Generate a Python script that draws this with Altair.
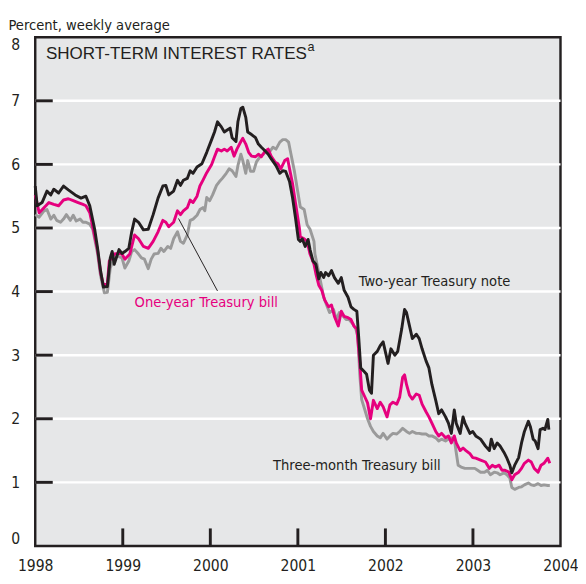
import altair as alt
import pandas as pd

INK = "#231f20"
BG = "#e6e7e8"
PINK = "#e6007e"
GRAY = "#9a9a9a"
NARROW = "DejaVu Sans Condensed, Liberation Sans Narrow, sans-serif"
SANS = "Liberation Sans, Arial, sans-serif"

year_ticks = [1998, 1999, 2000, 2001, 2002, 2003, 2004]
inner_year_ticks = [1999, 2000, 2001, 2002, 2003]
pct_ticks = [0, 1, 2, 3, 4, 5, 6, 7, 8]
grid_levels = [1, 2, 3, 4, 5, 6, 7]

# Two-year Treasury note (decimal year, percent)
two_t = [1998.000, 1998.022, 1998.078, 1998.134, 1998.178, 1998.212, 1998.267, 1998.323, 1998.378, 1998.456,
         1998.523, 1998.579, 1998.623, 1998.679, 1998.712, 1998.746, 1998.779, 1998.824, 1998.857, 1998.879,
         1998.902, 1998.957, 1998.991, 1999.024, 1999.069, 1999.102, 1999.135, 1999.180, 1999.236, 1999.291,
         1999.347, 1999.403, 1999.458, 1999.492, 1999.525, 1999.581, 1999.625, 1999.659, 1999.692, 1999.737,
         1999.770, 1999.803, 1999.848, 1999.904, 1999.959, 2000.015, 2000.048, 2000.082, 2000.126, 2000.160,
         2000.193, 2000.226, 2000.249, 2000.293, 2000.315, 2000.349, 2000.371, 2000.405, 2000.427, 2000.471,
         2000.516, 2000.549, 2000.583, 2000.627, 2000.661, 2000.694, 2000.750, 2000.794, 2000.828, 2000.861,
         2000.905, 2000.939, 2000.972, 2001.006, 2001.028, 2001.050, 2001.084, 2001.117, 2001.139, 2001.173,
         2001.206, 2001.239, 2001.262, 2001.295, 2001.317, 2001.351, 2001.384, 2001.418, 2001.462, 2001.496,
         2001.529, 2001.573, 2001.607, 2001.640, 2001.674, 2001.696, 2001.718, 2001.752, 2001.785, 2001.818,
         2001.841, 2001.863, 2001.907, 2001.941, 2001.974, 2002.030, 2002.063, 2002.108, 2002.141, 2002.186,
         2002.219, 2002.241, 2002.275, 2002.308, 2002.353, 2002.386, 2002.419, 2002.464, 2002.497, 2002.531,
         2002.575, 2002.609, 2002.642, 2002.687, 2002.720, 2002.753, 2002.787, 2002.809, 2002.854, 2002.887,
         2002.909, 2002.965, 2002.998, 2003.032, 2003.087, 2003.143, 2003.188, 2003.210, 2003.243, 2003.277,
         2003.310, 2003.355, 2003.388, 2003.421, 2003.444, 2003.477, 2003.522, 2003.555, 2003.588, 2003.633,
         2003.655, 2003.688, 2003.711, 2003.744, 2003.767, 2003.800, 2003.822, 2003.855, 2003.867]
two_v = [5.66, 5.35, 5.40, 5.58, 5.52, 5.61, 5.55, 5.66, 5.60, 5.52,
         5.47, 5.50, 5.35, 4.98, 4.68, 4.33, 4.07, 4.08, 4.53, 4.63,
         4.43, 4.66, 4.60, 4.63, 4.68, 4.94, 5.14, 5.09, 4.97, 4.98,
         5.21, 5.47, 5.66, 5.67, 5.52, 5.58, 5.75, 5.67, 5.75, 5.78,
         5.90, 5.86, 5.96, 6.01, 6.19, 6.39, 6.51, 6.67, 6.59, 6.51,
         6.54, 6.57, 6.42, 6.36, 6.67, 6.88, 6.90, 6.74, 6.51, 6.47,
         6.42, 6.32, 6.27, 6.21, 6.16, 6.09, 5.98, 5.86, 5.90, 5.89,
         5.73, 5.48, 5.17, 4.82, 4.79, 4.83, 4.71, 4.82, 4.66, 4.48,
         4.43, 4.20, 4.30, 4.22, 4.30, 4.25, 4.33, 4.22, 4.13, 4.22,
         4.02, 3.91, 3.76, 3.72, 3.69, 3.26, 2.80, 2.75, 2.70, 2.45,
         2.40, 3.00, 3.06, 3.15, 3.21, 2.87, 3.10, 3.00, 3.06, 3.41,
         3.72, 3.67, 3.46, 3.26, 3.33, 3.26, 3.10, 2.91, 2.80, 2.54,
         2.29, 2.08, 2.14, 2.03, 1.93, 1.77, 2.14, 1.93, 1.77, 2.03,
         1.93, 1.77, 1.80, 1.73, 1.68, 1.57, 1.50, 1.68, 1.53, 1.62,
         1.57, 1.47, 1.38, 1.27, 1.15, 1.27, 1.39, 1.62, 1.80, 1.96,
         1.88, 1.68, 1.65, 1.53, 1.83, 1.85, 1.83, 1.99, 1.83]

# One-year Treasury bill
one_t = [1998.000, 1998.045, 1998.100, 1998.156, 1998.212, 1998.267, 1998.323, 1998.378, 1998.434, 1998.490,
         1998.545, 1998.579, 1998.623, 1998.657, 1998.712, 1998.746, 1998.779, 1998.824, 1998.846, 1998.902,
         1998.957, 1998.991, 1999.024, 1999.080, 1999.135, 1999.180, 1999.236, 1999.291, 1999.347, 1999.403,
         1999.458, 1999.492, 1999.525, 1999.581, 1999.625, 1999.659, 1999.692, 1999.737, 1999.770, 1999.803,
         1999.848, 1999.881, 1999.915, 1999.959, 2000.015, 2000.048, 2000.082, 2000.126, 2000.160, 2000.193,
         2000.238, 2000.271, 2000.304, 2000.349, 2000.371, 2000.405, 2000.438, 2000.471, 2000.516, 2000.549,
         2000.583, 2000.627, 2000.661, 2000.694, 2000.738, 2000.772, 2000.805, 2000.850, 2000.883, 2000.905,
         2000.939, 2000.972, 2001.017, 2001.028, 2001.072, 2001.106, 2001.139, 2001.184, 2001.206, 2001.239,
         2001.273, 2001.306, 2001.351, 2001.384, 2001.418, 2001.462, 2001.496, 2001.529, 2001.573, 2001.607,
         2001.640, 2001.674, 2001.707, 2001.729, 2001.763, 2001.796, 2001.830, 2001.863, 2001.907, 2001.941,
         2001.974, 2002.019, 2002.052, 2002.086, 2002.130, 2002.163, 2002.197, 2002.219, 2002.241, 2002.275,
         2002.308, 2002.353, 2002.386, 2002.419, 2002.464, 2002.497, 2002.531, 2002.575, 2002.609, 2002.642,
         2002.687, 2002.720, 2002.753, 2002.787, 2002.809, 2002.854, 2002.887, 2002.920, 2002.965, 2002.998,
         2003.032, 2003.087, 2003.143, 2003.188, 2003.221, 2003.254, 2003.299, 2003.332, 2003.366, 2003.410,
         2003.444, 2003.477, 2003.522, 2003.555, 2003.588, 2003.633, 2003.666, 2003.700, 2003.744, 2003.778,
         2003.811, 2003.855, 2003.878]
one_v = [5.52, 5.24, 5.32, 5.40, 5.37, 5.35, 5.44, 5.46, 5.43, 5.40,
         5.37, 5.35, 5.24, 5.02, 4.65, 4.30, 4.10, 4.12, 4.48, 4.59,
         4.60, 4.59, 4.51, 4.59, 4.89, 4.83, 4.71, 4.68, 4.79, 4.94,
         5.12, 5.09, 5.02, 5.09, 5.27, 5.21, 5.27, 5.32, 5.44, 5.40,
         5.50, 5.66, 5.75, 5.87, 6.00, 6.12, 6.24, 6.21, 6.24, 6.21,
         6.27, 6.13, 6.24, 6.36, 6.41, 6.32, 6.19, 6.13, 6.12, 6.16,
         6.12, 6.21, 6.24, 6.13, 6.04, 6.01, 5.93, 6.06, 6.09, 5.93,
         5.70, 5.40, 5.00, 4.86, 4.83, 4.79, 4.59, 4.43, 4.28, 4.10,
         4.02, 3.87, 3.76, 3.79, 3.61, 3.46, 3.69, 3.61, 3.59, 3.56,
         3.46, 3.41, 2.90, 2.45, 2.35, 2.25, 2.00, 2.29, 2.16, 2.26,
         2.19, 2.03, 2.22, 2.26, 2.23, 2.34, 2.65, 2.69, 2.54, 2.37,
         2.31, 2.39, 2.37, 2.23, 2.11, 2.03, 1.93, 1.80, 1.73, 1.77,
         1.70, 1.73, 1.62, 1.73, 1.62, 1.50, 1.54, 1.50, 1.45, 1.39,
         1.38, 1.35, 1.32, 1.22, 1.27, 1.24, 1.27, 1.19, 1.19, 1.16,
         1.04, 1.12, 1.16, 1.22, 1.30, 1.35, 1.32, 1.22, 1.16, 1.27,
         1.30, 1.38, 1.30]

# Three-month Treasury bill
three_t = [1998.000, 1998.045, 1998.100, 1998.134, 1998.178, 1998.212, 1998.245, 1998.289, 1998.323, 1998.356,
           1998.401, 1998.434, 1998.468, 1998.512, 1998.545, 1998.579, 1998.623, 1998.657, 1998.712, 1998.746,
           1998.790, 1998.824, 1998.857, 1998.902, 1998.935, 1998.991, 1999.024, 1999.069, 1999.102, 1999.135,
           1999.180, 1999.213, 1999.247, 1999.291, 1999.325, 1999.358, 1999.403, 1999.436, 1999.469, 1999.514,
           1999.547, 1999.581, 1999.625, 1999.659, 1999.692, 1999.737, 1999.770, 1999.803, 1999.848, 1999.881,
           1999.915, 1999.937, 1999.959, 1999.993, 2000.026, 2000.071, 2000.104, 2000.137, 2000.182, 2000.215,
           2000.249, 2000.293, 2000.315, 2000.349, 2000.371, 2000.405, 2000.427, 2000.460, 2000.494, 2000.527,
           2000.572, 2000.605, 2000.638, 2000.683, 2000.716, 2000.750, 2000.794, 2000.828, 2000.861, 2000.894,
           2000.917, 2000.961, 2000.995, 2001.028, 2001.072, 2001.106, 2001.139, 2001.184, 2001.195, 2001.228,
           2001.262, 2001.295, 2001.328, 2001.362, 2001.407, 2001.440, 2001.473, 2001.518, 2001.551, 2001.585,
           2001.629, 2001.662, 2001.685, 2001.707, 2001.729, 2001.763, 2001.796, 2001.830, 2001.863, 2001.907,
           2001.941, 2001.974, 2002.019, 2002.052, 2002.086, 2002.130, 2002.163, 2002.197, 2002.241, 2002.275,
           2002.308, 2002.353, 2002.386, 2002.419, 2002.464, 2002.497, 2002.531, 2002.575, 2002.609, 2002.642,
           2002.687, 2002.720, 2002.753, 2002.787, 2002.809, 2002.831, 2002.865, 2002.909, 2002.943, 2002.976,
           2003.021, 2003.054, 2003.087, 2003.132, 2003.165, 2003.199, 2003.243, 2003.277, 2003.310, 2003.355,
           2003.388, 2003.421, 2003.444, 2003.477, 2003.522, 2003.555, 2003.588, 2003.633, 2003.666, 2003.700,
           2003.744, 2003.778, 2003.811, 2003.855, 2003.878]
three_v = [5.21, 5.17, 5.27, 5.29, 5.14, 5.20, 5.12, 5.09, 5.14, 5.21,
           5.12, 5.20, 5.11, 5.14, 5.09, 5.09, 5.06, 4.98, 4.60, 4.25,
           3.98, 3.99, 4.37, 4.53, 4.56, 4.53, 4.37, 4.48, 4.63, 4.66,
           4.59, 4.53, 4.51, 4.36, 4.51, 4.59, 4.60, 4.68, 4.63, 4.71,
           4.68, 4.83, 4.94, 4.79, 4.76, 4.89, 5.12, 5.14, 5.20, 5.29,
           5.32, 5.27, 5.48, 5.43, 5.52, 5.67, 5.73, 5.78, 5.86, 5.93,
           5.90, 5.81, 5.98, 6.16, 6.06, 5.86, 6.06, 5.89, 5.89, 6.04,
           6.13, 6.16, 6.21, 6.21, 6.27, 6.24, 6.35, 6.39, 6.39, 6.35,
           6.19, 5.89, 5.60, 5.33, 5.29, 5.05, 4.98, 4.79, 4.59, 4.37,
           4.14, 3.91, 3.79, 3.67, 3.72, 3.56, 3.67, 3.61, 3.56, 3.56,
           3.49, 3.41, 3.30, 2.70, 2.30, 2.15, 2.00, 1.88, 1.80, 1.73,
           1.70, 1.77, 1.68, 1.73, 1.77, 1.76, 1.80, 1.85, 1.80, 1.77,
           1.80, 1.77, 1.77, 1.76, 1.76, 1.73, 1.73, 1.70, 1.65, 1.68,
           1.65, 1.68, 1.70, 1.68, 1.47, 1.27, 1.24, 1.22, 1.22, 1.22,
           1.22, 1.19, 1.16, 1.16, 1.19, 1.12, 1.16, 1.15, 1.12, 1.15,
           1.12, 1.07, 0.92, 0.89, 0.92, 0.93, 0.96, 0.99, 0.96, 0.95,
           0.98, 0.95, 0.96, 0.95, 0.95]

W, H = 540, 523
FS = 15
TICK = 18
xs = alt.Scale(domain=[1998, 2004], nice=False, zero=False)
ys = alt.Scale(domain=[0, 8], nice=False)

x_axis = alt.Axis(values=year_ticks, format="d", title=None, grid=False, ticks=False, tickSize=0,
                  domain=False, labelFlush=False, labelPadding=12, labelFontSize=16, labelFont=NARROW,
                  labelColor=INK)
y_axis = alt.Axis(values=pct_ticks, format="d", grid=False, ticks=False, tickSize=0, domain=False,
                  labelFlush=True, labelPadding=16, labelFontSize=16, labelFont=NARROW, labelColor=INK,
                  title="Percent, weekly average", titleAngle=0, titleAlign="left",
                  titleBaseline="alphabetic", titleX=-28, titleY=-8, titleFont=NARROW,
                  titleFontSize=FS, titleFontWeight="normal", titleColor=INK)

grid = alt.Chart(pd.DataFrame({"gv": grid_levels})).mark_rule(color="white", strokeWidth=2.5).encode(
    x=alt.value(0), x2=alt.value(W),
    y=alt.Y("gv:Q", scale=ys, axis=y_axis),
)


def line(ts, vs, color):
    return alt.Chart(pd.DataFrame({"t": ts, "v": vs})).mark_line(
        color=color, strokeWidth=3, strokeJoin="round"
    ).encode(
        x=alt.X("t:Q", scale=xs, axis=x_axis),
        y=alt.Y("v:Q", scale=ys),
    )


ytick = alt.Chart(pd.DataFrame({"tv": grid_levels})).mark_rule(color=INK, strokeWidth=3).encode(
    x=alt.value(0), x2=alt.value(TICK), y=alt.Y("tv:Q", scale=ys)
)
xtick = alt.Chart(pd.DataFrame({"tt": inner_year_ticks})).mark_rule(color=INK, strokeWidth=3).encode(
    x=alt.X("tt:Q", scale=xs), y=alt.value(H), y2=alt.value(H - TICK)
)

leader = alt.Chart(pd.DataFrame({"t": [1999.636], "v": [5.15], "t2": [2000.082], "v2": [4.01]})).mark_rule(
    color=INK, strokeWidth=1
).encode(x=alt.X("t:Q", scale=xs), y=alt.Y("v:Q", scale=ys), x2="t2:Q", y2="v2:Q")


def label(text, t, v, color, font, size):
    return alt.Chart(pd.DataFrame({"t": [t], "v": [v], "s": [text]})).mark_text(
        align="left", baseline="alphabetic", font=font, fontSize=size, color=color
    ).encode(x=alt.X("t:Q", scale=xs), y=alt.Y("v:Q", scale=ys), text="s:N")


chart = alt.layer(
    grid,
    line(three_t, three_v, GRAY),
    line(one_t, one_v, PINK),
    line(two_t, two_v, INK),
    leader,
    label("SHORT-TERM INTEREST RATES", 1998.122, 7.66, INK, SANS, 17.5),
    label("a", 2001.111, 7.78, INK, SANS, 13),
    label("Two-year Treasury note", 2001.696, 4.08, INK, NARROW, FS),
    label("One-year Treasury bill", 1999.135, 3.76, PINK, NARROW, FS),
    label("Three-month Treasury bill", 2000.716, 1.19, INK, NARROW, FS),
    ytick,
    xtick,
).properties(
    width=W, height=H,
    padding={"left": 28, "top": 22, "right": 18, "bottom": 28},
    autosize=alt.AutoSizeParams(type="none"),
).configure_view(
    stroke=INK, strokeWidth=2.5, fill=BG
)

chart.save("out.html", embed_options={"renderer": "svg", "actions": False})
